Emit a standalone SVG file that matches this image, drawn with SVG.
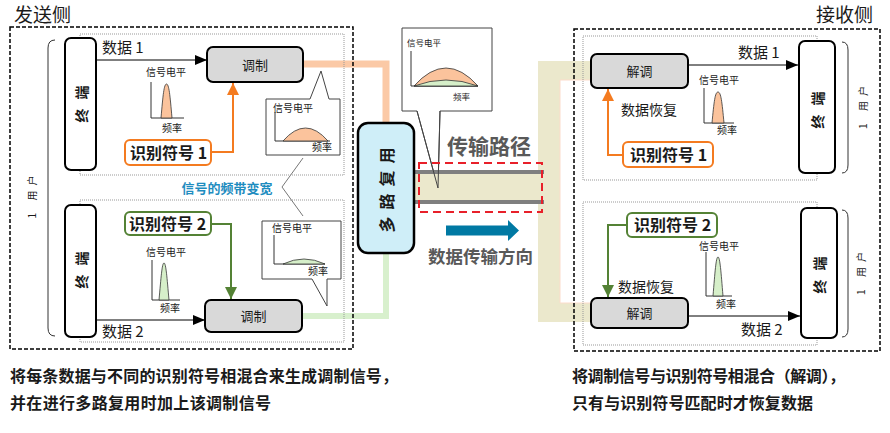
<svg xmlns="http://www.w3.org/2000/svg" width="890" height="433" viewBox="0 0 890 433">
<defs>
<marker id="ab" markerUnits="userSpaceOnUse" markerWidth="12" markerHeight="10" refX="12" refY="5" orient="auto"><path d="M0,0 L12,5 L0,10 z" fill="#000"/></marker>
<marker id="ao" markerUnits="userSpaceOnUse" markerWidth="12" markerHeight="12" refX="12" refY="6" orient="auto"><path d="M0,0 L12,6 L0,12 z" fill="#f47b20"/></marker>
<marker id="ag" markerUnits="userSpaceOnUse" markerWidth="12" markerHeight="12" refX="12" refY="6" orient="auto"><path d="M0,0 L12,6 L0,12 z" fill="#548235"/></marker>
</defs>
<style>
text{font-family:"Noto Sans CJK SC","Noto Sans",sans-serif;fill:#1a1a1a}
.lbl{font-size:15px}
.mt{font-size:13px;text-anchor:middle}
.mod{fill:#d9d9d9;stroke:#000;stroke-width:2}
.term{fill:#fff;stroke:#000;stroke-width:2}
.tt{font-size:14px;font-weight:bold;letter-spacing:9px;text-anchor:middle;dominant-baseline:central}
.usr{font-size:10px;letter-spacing:5px;text-anchor:middle;dominant-baseline:central}
.outer{fill:none;stroke:#000;stroke-width:1.5;stroke-dasharray:4 2}
.inner{fill:none;stroke:#999;stroke-width:1;stroke-dasharray:1 1}
.code{font-size:16px;font-weight:bold}
.ob{fill:#fff;stroke:#f47b20;stroke-width:2}
.gb{fill:#fff;stroke:#548235;stroke-width:2}
.sm{font-size:10px}
.axis{fill:none;stroke:#333;stroke-width:1}
.bub{fill:#fff;stroke:#444;stroke-width:1}
.pk{fill:#fbc39c;stroke:#333;stroke-width:0.8}
.gk{fill:#d6efc9;stroke:#333;stroke-width:0.8}
.br{fill:none;stroke:#333;stroke-width:1}
.bt{font-size:16px;font-weight:bold}
.title{font-size:19px}
.arr{fill:none;stroke:#000;stroke-width:1;marker-end:url(#ab)}
.oarr{fill:none;stroke:#f47b20;stroke-width:2;marker-end:url(#ao)}
.garr{fill:none;stroke:#548235;stroke-width:2;marker-end:url(#ag)}
</style>
<rect width="890" height="433" fill="#fff"/>

<!-- middle bubble body (drawn beneath transmission band) -->
<g id="mid-bubble">
<path class="bub" d="M402,28 L492,28 L492,111 L440,111 L438,188 L417,111 L402,111 Z"/>
<text x="407" y="46" style="font-size:8.5px">信号电平</text>
<polyline class="axis" points="411,51 411,86 478,86"/>
<path class="pk" d="M414,86 Q446,50 478,86 Z"/>
<path class="gk" d="M414,86 Q446,74 478,86 Z"/>
<text x="453" y="100" style="font-size:8.5px">频率</text>
</g>

<g id="connectors">
<polyline points="303,64 386,64 386,124" fill="none" stroke="#fbc9a6" stroke-width="7"/>
<polyline points="302,316 386,316 386,252" fill="none" stroke="#d8f0cd" stroke-width="6"/>
<path d="M414,174 L538,174 L538,61 L592,61 L592,80 L560,80 L560,303 L592,303 L592,322 L538,322 L538,200 L414,200 Z" fill="#ebe8cc"/>
<polyline points="592,80 560,80 560,303 592,303" fill="none" stroke="#fcdccb" stroke-width="1"/>
<line x1="414" y1="172" x2="544" y2="172" stroke="#7f7f7f" stroke-width="4"/>
<line x1="414" y1="202" x2="544" y2="202" stroke="#7f7f7f" stroke-width="4"/>
<path d="M417,111 L438,188 L440,111" fill="none" stroke="#444" stroke-width="1"/>
<line class="arr" x1="96" y1="60" x2="207" y2="60"/>
<line class="arr" x1="96" y1="320" x2="205" y2="320"/>
<polyline class="oarr" points="211,152 233,152 233,83"/>
<polyline class="garr" points="211,224 231,224 231,299"/>
<line class="arr" x1="688" y1="65" x2="798" y2="65"/>
<line class="arr" x1="688" y1="316" x2="800" y2="316"/>
<polyline class="oarr" points="623,155 608,155 608,89"/>
<polyline class="garr" points="627,225 608,225 608,297"/>
<polyline points="303,158 282,187 303,216" fill="none" stroke="#777" stroke-width="1"/>
</g>

<g id="sender-frame">
<text class="title" x="14" y="22">发送侧</text>
<rect class="outer" x="10" y="27" width="343" height="322"/>
<rect class="inner" x="80" y="34" width="264" height="141"/>
<rect class="inner" x="80" y="200" width="264" height="142"/>
<path class="br" d="M55,40 Q48,40 48,48 L48,328 Q48,336 55,336"/>
<text class="usr" x="33.5" y="197" transform="rotate(-90 31 197)">1 用户</text>
<text x="227" y="193" style="font-size:13px;font-weight:bold;fill:#1f8dc0;text-anchor:middle">信号的频带变宽</text>
</g>

<g id="term-l1">
<rect class="term" x="65" y="38" width="31" height="132" rx="6"/>
<text class="tt" x="85" y="104" transform="rotate(-90 80.5 104)">终端</text>
</g>
<g id="term-l2">
<rect class="term" x="65" y="205" width="31" height="132" rx="6"/>
<text class="tt" x="85" y="270" transform="rotate(-90 80.5 270)">终端</text>
</g>

<g id="mod1">
<rect class="mod" x="207" y="47" width="96" height="35" rx="6"/>
<text class="mt" x="255" y="69.5">调制</text>
</g>
<g id="mod2">
<rect class="mod" x="205" y="300" width="97" height="32" rx="6"/>
<text class="mt" x="253.5" y="321">调制</text>
</g>
<g id="data-l1"><text class="lbl" x="102" y="53">数据 1</text></g>
<g id="data-l2"><text class="lbl" x="102" y="337">数据 2</text></g>

<g id="code-l1">
<rect class="ob" x="125" y="140" width="86" height="25" rx="5"/>
<text class="code" x="130" y="158.5">识别符号 1</text>
</g>
<g id="code-l2">
<rect class="gb" x="125" y="212" width="86" height="23" rx="5"/>
<text class="code" x="129" y="229.5">识别符号 2</text>
</g>

<g id="chart-l1">
<text class="sm" x="146" y="76">信号电平</text>
<polyline class="axis" points="151,82 151,118 184,118"/>
<path class="pk" d="M161,118 C163,95 164,84 166.5,84 C169,84 170,95 172,118 Z"/>
<text class="sm" x="162" y="132">频率</text>
</g>
<g id="chart-l2">
<text class="sm" x="146" y="256">信号电平</text>
<polyline class="axis" points="152,260 152,300 180,300"/>
<path class="gk" d="M159,300 C161,278 162,263 164,263 C166,263 167,278 169,300 Z"/>
<text class="sm" x="160" y="312">频率</text>
</g>

<g id="bubble-l1">
<path class="bub" d="M266,99 L310,99 L321,71 L329,99 L340,99 L340,155 L266,155 Z"/>
<text class="sm" x="273" y="112">信号电平</text>
<polyline class="axis" points="275,112 275,141 330,141"/>
<path class="pk" d="M283,141 Q305.5,115 328,141 Z"/>
<text class="sm" x="312" y="151">频率</text>
</g>
<g id="bubble-l2">
<path class="bub" d="M262,221 L341,221 L341,279 L327,279 L327,306 L312,279 L262,279 Z"/>
<text class="sm" x="272" y="232">信号电平</text>
<polyline class="axis" points="274,235 274,264 325,264"/>
<path class="gk" d="M283,264 Q304,254 325,264 Z"/>
<text class="sm" x="308" y="275">频率</text>
</g>

<g id="mux">
<rect x="358" y="123" width="56" height="130" rx="10" fill="#cfeef8" stroke="#000" stroke-width="2.5"/>
<text x="389.5" y="190" transform="rotate(-90 386 190)" style="font-size:16px;font-weight:bold;letter-spacing:7px;text-anchor:middle;dominant-baseline:central">多路复用</text>
</g>

<g id="path">
<rect x="419" y="163" width="123" height="49" fill="none" stroke="#e8202a" stroke-width="2" stroke-dasharray="8 5"/>
<text x="447" y="154" style="font-size:21px;font-weight:bold;fill:#595959">传输路径</text>
<polygon points="446,225.5 508,225.5 508,220 519,230.5 508,241 508,235.5 446,235.5" fill="#0079a3"/>
<text x="428" y="263" style="font-size:17.5px;font-weight:bold;fill:#595959">数据传输方向</text>
</g>

<g id="receiver-frame">
<text class="title" x="816" y="22">接收侧</text>
<rect class="outer" x="574" y="29" width="306" height="322"/>
<rect class="inner" x="583" y="36" width="234" height="144"/>
<rect class="inner" x="583" y="202" width="234" height="143"/>
<path class="br" d="M842,42 Q848,42 848,50 L848,165 Q848,173 842,173"/>
<path class="br" d="M842,210 Q848,210 848,218 L848,329 Q848,337 842,337"/>
<text class="usr" x="864.5" y="107.5" transform="rotate(-90 862 107.5)">1 用户</text>
<text class="usr" x="862.5" y="273.5" transform="rotate(-90 860 273.5)">1 用户</text>
</g>

<g id="demod1">
<rect class="mod" x="591" y="54" width="97" height="34" rx="6"/>
<text class="mt" x="639.5" y="76">解调</text>
</g>
<g id="demod2">
<rect class="mod" x="591" y="298" width="97" height="30" rx="6"/>
<text class="mt" x="639.5" y="318">解调</text>
</g>
<g id="term-r1">
<rect class="term" x="799" y="41" width="36" height="132" rx="6"/>
<text class="tt" x="821.5" y="110" transform="rotate(-90 817 110)">终端</text>
</g>
<g id="term-r2">
<rect class="term" x="801" y="208" width="36" height="130" rx="6"/>
<text class="tt" x="823.5" y="275" transform="rotate(-90 819 275)">终端</text>
</g>
<g id="data-r1"><text class="lbl" x="738" y="58">数据 1</text></g>
<g id="data-r2"><text class="lbl" x="741" y="335">数据 2</text></g>
<g id="recover1"><text style="font-size:14px" x="621" y="115">数据恢复</text></g>
<g id="recover2"><text style="font-size:14px" x="618" y="292">数据恢复</text></g>
<g id="code-r1">
<rect class="ob" x="623" y="142" width="90" height="25" rx="5"/>
<text class="code" x="630" y="160.5">识别符号 1</text>
</g>
<g id="code-r2">
<rect class="gb" x="627" y="213" width="90" height="24" rx="5"/>
<text class="code" x="634" y="231">识别符号 2</text>
</g>
<g id="chart-r1">
<text class="sm" x="699" y="84">信号电平</text>
<polyline class="axis" points="704,88 704,123 734,123"/>
<path class="pk" d="M712,123 C714,102 715,92 718,92 C721,92 722,102 724,123 Z"/>
<text class="sm" x="717" y="134">频率</text>
</g>
<g id="chart-r2">
<text class="sm" x="699" y="250">信号电平</text>
<polyline class="axis" points="706,252 706,296 732,296"/>
<path class="gk" d="M713,296 C715,272 716,257 718,257 C720,257 721,272 723,296 Z"/>
<text class="sm" x="716" y="308">频率</text>
</g>

<g id="notes">
<text class="bt" x="10" y="382" textLength="388" lengthAdjust="spacing">将每条数据与不同的识别符号相混合来生成调制信号，</text>
<text class="bt" x="10" y="409" textLength="261" lengthAdjust="spacing">并在进行多路复用时加上该调制信号</text>
<text class="bt" x="572" y="382" textLength="273" lengthAdjust="spacing">将调制信号与识别符号相混合（解调），</text>
<text class="bt" x="572" y="409" textLength="241" lengthAdjust="spacing">只有与识别符号匹配时才恢复数据</text>
</g>
</svg>
